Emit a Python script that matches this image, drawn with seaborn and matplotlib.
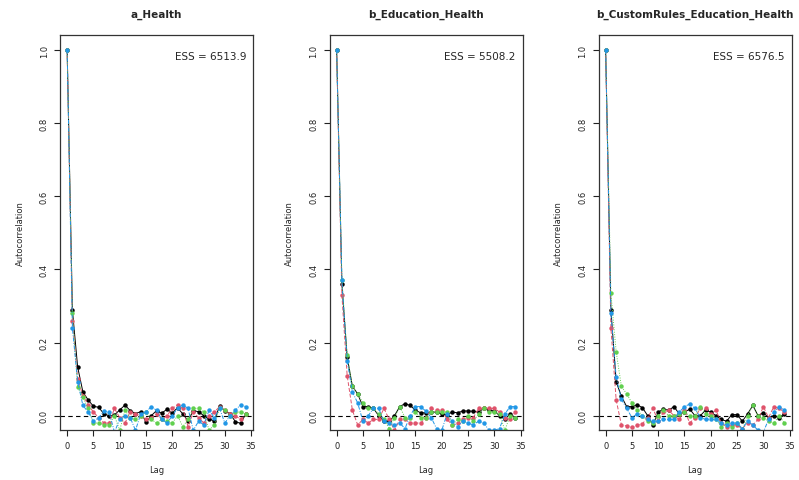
import numpy as np
import pandas as pd
import matplotlib
matplotlib.use("Agg")
import matplotlib.pyplot as plt
import seaborn as sns

lags = list(range(35))
chains = ["1", "2", "3", "4"]
chain_colors = ["#000000", "#DF536B", "#61D04F", "#2297E6"]

titles = ["a_Health", "b_Education_Health", "b_CustomRules_Education_Health"]
ess_values = [6513.9, 5508.2, 6576.5]

# autocorrelation per chain, lag 0..34
a_health = {
    "1": [1.0, 0.289, 0.133, 0.065, 0.043, 0.026, 0.023, 0.005, 0.0, 0.002, 0.016, 0.029, 0.014, 0.006, 0.011,
          -0.018, 0.0, 0.014, 0.007, 0.018, 0.007, 0.022, 0.005, -0.014, 0.014, 0.011, 0.0, -0.009, -0.014,
          0.027, 0.014, 0.005, -0.016, -0.021, 0.005],
    "2": [1.0, 0.26, 0.10, 0.055, 0.03, 0.01, -0.005, -0.02, -0.02, 0.02, -0.005, -0.02, 0.01, 0.005, 0.0,
          -0.01, -0.005, 0.005, -0.01, 0.0, 0.02, 0.03, 0.02, -0.03, 0.01, -0.005, -0.02, 0.0, 0.01,
          0.025, 0.015, 0.005, 0.0, -0.01, 0.005],
    "3": [1.0, 0.28, 0.078, 0.05, 0.02, -0.02, -0.02, -0.025, -0.025, 0.0, -0.04, 0.015, -0.005, -0.01, 0.0,
          0.01, -0.01, -0.02, -0.01, -0.015, -0.02, 0.0, -0.03, -0.01, 0.02, 0.02, 0.01, -0.04, -0.025,
          0.02, 0.015, 0.0, 0.01, 0.01, 0.005],
    "4": [1.0, 0.24, 0.093, 0.028, 0.01, -0.015, -0.005, 0.012, 0.01, -0.045, -0.01, 0.0, -0.005, -0.04, 0.005,
          0.01, 0.025, 0.015, -0.01, -0.02, 0.0, 0.02, 0.03, 0.02, -0.04, -0.015, -0.025, 0.015, -0.005,
          0.02, -0.02, 0.0, 0.015, 0.03, 0.025],
}
b_education_health = {
    "1": [1.0, 0.36, 0.16, 0.08, 0.06, 0.025, 0.025, 0.02, 0.0, -0.015, -0.015, 0.0, 0.025, 0.033, 0.028,
          0.015, 0.008, 0.008, 0.01, 0.01, 0.005, 0.003, 0.01, 0.008, 0.013, 0.013, 0.012, 0.01, 0.02,
          0.015, 0.013, 0.0, -0.01, 0.005, -0.005],
    "2": [1.0, 0.33, 0.11, 0.015, -0.025, -0.01, -0.02, -0.01, -0.01, 0.02, -0.01, -0.04, -0.01, -0.01, -0.02,
          -0.02, -0.02, -0.005, 0.02, 0.015, 0.015, -0.01, -0.025, -0.02, -0.01, -0.005, -0.005, 0.02, 0.02,
          0.02, 0.02, 0.01, -0.005, -0.01, 0.01],
    "3": [1.0, 0.37, 0.165, 0.08, 0.06, 0.035, 0.02, 0.02, 0.005, -0.01, -0.035, -0.005, 0.025, -0.005, -0.005,
          0.01, -0.005, -0.005, 0.01, 0.01, 0.01, 0.01, -0.025, -0.01, -0.015, 0.0, -0.015, 0.005, 0.02,
          0.01, 0.01, 0.005, -0.04, 0.0, -0.005],
    "4": [1.0, 0.37, 0.15, 0.065, 0.035, -0.015, 0.0, 0.02, 0.02, -0.015, -0.02, -0.025, -0.02, -0.035, 0.0,
          0.025, 0.025, 0.012, -0.005, -0.035, -0.04, 0.005, -0.015, -0.03, -0.015, -0.02, -0.025, -0.015, -0.02,
          -0.04, -0.04, -0.035, 0.005, 0.025, 0.025],
}
b_custom_rules = {
    "1": [1.0, 0.29, 0.093, 0.053, 0.025, 0.025, 0.03, 0.022, 0.0, -0.025, 0.01, 0.018, 0.015, 0.025, 0.005,
          0.01, 0.018, 0.0, 0.0, 0.015, 0.01, 0.0, -0.01, -0.015, 0.003, 0.003, -0.015, 0.005, 0.028,
          0.0, 0.008, -0.005, 0.0, -0.005, 0.005],
    "2": [1.0, 0.24, 0.043, -0.025, -0.028, -0.032, -0.025, -0.022, -0.005, 0.02, -0.015, 0.01, 0.015, 0.0, -0.01,
          0.015, -0.02, -0.005, 0.02, 0.02, 0.005, 0.015, -0.02, -0.03, -0.025, -0.025, -0.035, -0.02, -0.025,
          -0.01, 0.025, -0.005, 0.025, 0.02, 0.01],
    "3": [1.0, 0.335, 0.175, 0.08, 0.06, 0.035, 0.015, 0.0, -0.015, -0.02, 0.0, 0.015, 0.0, 0.0, 0.005,
          0.01, 0.0, 0.0, 0.025, 0.005, 0.0, -0.01, -0.03, -0.02, -0.03, -0.02, -0.04, 0.0, 0.03,
          0.0, -0.005, -0.015, -0.02, 0.0, -0.02],
    "4": [1.0, 0.28, 0.105, 0.045, 0.02, -0.005, 0.005, 0.0, -0.01, -0.015, -0.015, -0.01, -0.01, -0.01, 0.01,
          0.025, 0.032, 0.02, -0.005, -0.01, -0.01, -0.01, -0.02, -0.025, -0.02, -0.02, -0.035, -0.015, -0.025,
          -0.04, -0.045, -0.01, 0.01, 0.025, 0.015],
}
panels = [a_health, b_education_health, b_custom_rules]

sns.set_theme(style="ticks")
plt.rcParams["font.family"] = ["DejaVu Sans"]

fig = plt.figure(figsize=(7.99, 4.81), dpi=100)
lefts = [60, 329.5, 598.5]

for i, data in enumerate(panels):
    ax = fig.add_axes([lefts[i] / 799, 50 / 481, 193 / 799, 395 / 481])
    rows = []
    for c in chains:
        for lag, v in zip(lags, data[c]):
            rows.append({"lag": lag, "acf": v, "chain": c})
    df = pd.DataFrame(rows)

    ax.axhline(0, color="black", linestyle=(0, (4, 3)), linewidth=0.8, zorder=1)
    sns.lineplot(data=df, x="lag", y="acf", hue="chain", style="chain",
                 palette=chain_colors, dashes=["", (4, 2), (1, 1.5), (4, 1.5, 1, 1.5)],
                 markers=["o", "o", "o", "o"], markersize=3.2, markeredgewidth=0,
                 linewidth=0.7, legend=False, ax=ax)

    ax.set_xlim(-1.36, 35.36)
    ax.set_ylim(-0.039, 1.041)
    ax.set_xticks(range(0, 36, 5))
    ax.set_yticks([0.0, 0.2, 0.4, 0.6, 0.8, 1.0])
    ax.set_yticklabels(["0.0", "0.2", "0.4", "0.6", "0.8", "1.0"], rotation=90, va="center")
    ax.tick_params(labelsize=6, length=4, width=0.8, colors="#222222", pad=4)
    for s in ax.spines.values():
        s.set_visible(True)
        s.set_linewidth(0.9)
        s.set_color("#333333")
    ax.set_xlabel("Lag", fontsize=6, labelpad=11)
    ax.set_ylabel("Autocorrelation", fontsize=6, labelpad=11)
    ax.set_title(titles[i], fontsize=7.5, fontweight="bold", pad=13)
    ax.text(0.965, 0.948, f"ESS = {ess_values[i]:.1f}", transform=ax.transAxes,
            ha="right", va="center", fontsize=7.5)

fig.savefig("out.png", dpi=100)
